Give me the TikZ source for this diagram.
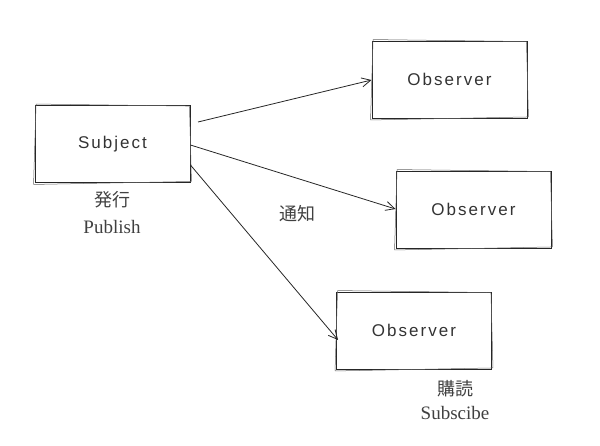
\documentclass[tikz,border=0pt]{standalone}
\usepackage{fontspec}
\setmainfont{Liberation Serif}
\newfontfamily\boxfont[LetterSpace=12]{Liberation Sans}
\newfontfamily\cjk{Noto Sans CJK JP}
\usetikzlibrary{arrows.meta,calc}
\tikzset{
  box/.style={draw=black!85, line width=0.9pt, minimum width=155pt, minimum height=77pt, inner sep=0pt, font=\boxfont\fontsize{17}{19}\selectfont, text=black!80},
  sketch/.style={draw=black!60, line width=0.5pt},
  conn/.style={draw=black!85, line width=0.8pt, -{Straight Barb[length=9pt,width=9pt]}},
  lbl/.style={font=\fontsize{19}{21}\selectfont, text=black!75, align=center, inner sep=0pt},
  cjklbl/.style={font=\cjk\fontsize{18}{20}\selectfont, text=black!75, align=center, inner sep=0pt},
}
\begin{document}
\begin{tikzpicture}[x=1pt,y=-1pt]
\useasboundingbox (0,0) rectangle (600,445);
\node[box] (subj) at (112.5,144) {Subject};
\node[box] (obs1) at (449.5,79.5) {Observer};
\node[box] (obs2) at (473.5,209.5) {Observer};
\node[box] (obs3) at (414,330.5) {Observer};
% sketchy second strokes
\foreach \n in {subj,obs1,obs2,obs3}{
  \draw[sketch] ($(\n.north west)+(1.5,-1)$) -- ($(\n.north east)+(-1,1)$) -- ($(\n.south east)+(1,-1.5)$) -- ($(\n.south west)+(-1,1.5)$) -- cycle;
}
\coordinate (s1) at (198,122);
\draw[conn] (s1) -- (obs1.west |- 0,80);
\draw[conn] (subj.east |- 0,145) -- (obs2.west |- 0,209);
\draw[conn] (subj.east |- 0,165) -- ($(obs3.west |- 0,340)+(2,0)$);
\node[cjklbl] (pubja) at (112,200) {発行};
\node[lbl] (puben) at (112,227) {Publish};
\node[cjklbl] (notify) at (297,214) {通知};
\node[cjklbl] (subja) at (455,389) {購読};
\node[lbl] (suben) at (455,413) {Subscibe};
\end{tikzpicture}
\end{document}
